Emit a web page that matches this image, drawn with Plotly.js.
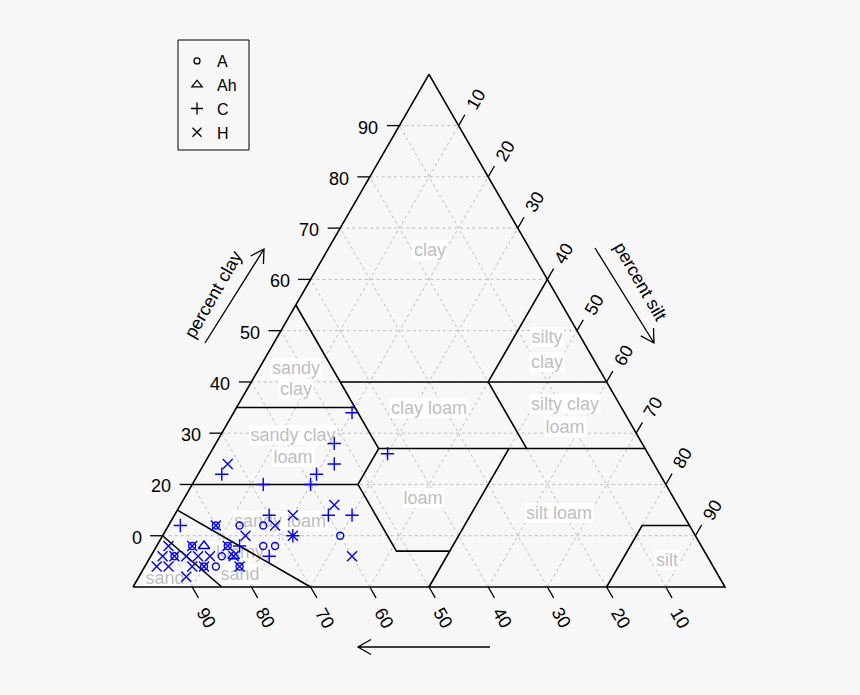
<!DOCTYPE html>
<html><head><meta charset="utf-8">
<script src="https://cdn.plot.ly/plotly-3.0.1.min.js"></script>
<style>html,body{margin:0;padding:0;background:#f7f7f7;}</style>
</head><body><div id="chart" style="width:860px;height:695px;"></div>
<script>
// ---- data: percent sand / silt / clay for each horizon group ----
const A_sand  = [80,76,72,86,80,90,82,86,84,80,74,72,60];
const A_silt  = [ 8,12,16, 6,12, 4,12,10,12,16,18,20,30];
const A_clay  = [12,12,12, 8, 8, 6, 6, 4, 4, 4, 8, 8,10];

const Ah_sand = [84,80];
const Ah_silt = [ 8,14];
const Ah_clay = [ 8, 6];

const C_sand  = [46,52,54,58,60,68,74,44,60,56,70,68,74,78,86];
const C_silt  = [20,20,22,20,20,12, 4,30,26,30,16,22,20,14, 2];
const C_clay  = [34,28,24,22,20,20,22,26,14,14,14,10, 6, 8,12];

const H_sand  = [72,58,66,70,76,68,60,80,90,86,80,92,90,88,86,84,80,94,92,88,86,80,90];
const H_silt  = [ 4,26,20,18,14,22,34, 8, 2, 6,12, 2, 4, 6, 8,10,14, 2, 4, 8,10,16, 8];
const H_clay  = [24,16,14,12,10,10, 6,12, 8, 8, 8, 6, 6, 6, 6, 6, 6, 4, 4, 4, 4, 4, 2];

const groupNames = ['A','Ah','C','H'];

// USDA texture class boundary polylines (sand, silt, clay), null = break
const bndSand = [45,45,null,65,45,null,45,0,null,0,20,null,20,20,null,45,0,null,45,52,null,80,52,null,52,52,43,null,50,23,null,20,8,0,null,85,70,null,90,85];
const bndSilt = [ 0,28,null, 0,20,null,15,60,null,40,40,null,40,53,null,28,73,null,28,28,null, 0,28,null,28,41,50,null,50,50,null,80,80,88,null, 0,30,null, 0,15];
const bndClay = [55,27,null,35,35,null,40,40,null,60,40,null,40,27,null,27,27,null,27,20,null,20,20,null,20, 7, 7,null, 0,27,null, 0,12,12,null,15, 0,null,10, 0];

// tick values and labels
const tickVals   = [10,20,30,40,50,60,70,80,90];
const clayLabels = ['0','20','30','40','50','60','70','80','90'];
const siltLabels = ['10','20','30','40','50','60','70','80','90'];
const sandLabels = ['10','20','30','40','50','60','70','80','90'];

// texture class names (one entry per text line)
const classNames = ['clay','silty','clay','sandy','clay','clay loam','silty clay','loam','sandy clay','loam','loam','silt loam','sandy loam','loamy','sand','sand','silt'];
const classPx = [[430,250],[547,337],[547,362],[296,368],[296,389],[429,408],[565,404],[565,427],[293,435],[293,457],[423,498],[559,513],[280,521],[240,552],[240,574],[165,578],[667,560]];

// ---- projection (ternary -> cartesian) ----
const SQ = Math.sqrt(3)/2;
function tX(sand, silt, clay){ return (silt == null || clay == null) ? null : (silt + clay/2)/100; }
function tY(sand, silt, clay){ return (clay == null) ? null : clay/100*SQ; }
function proj(sa, si, cl){
  return {x: sa.map((v,i)=>tX(v, si[i], cl[i])), y: sa.map((v,i)=>tY(v, si[i], cl[i]))};
}
const U = 592; // px per unit
function pxd(px, py){ return [(px-133)/U, (587-py)/U]; }

const traces = [];
const FONT = 'Liberation Sans, Arial, Helvetica, sans-serif';

// grid
(function(){
  const gx=[], gy=[];
  tickVals.forEach(v=>{
    const segs = [[[100-v,0,v],[0,100-v,v]], [[100-v,v,0],[0,v,100-v]], [[v,100-v,0],[v,0,100-v]]];
    segs.forEach(s=>{ s.forEach(p=>{gx.push(tX(...p)); gy.push(tY(...p));}); gx.push(null); gy.push(null); });
  });
  traces.push({x:gx, y:gy, mode:'lines', line:{color:'#bdbdbd', width:1, dash:'dot'}, hoverinfo:'skip', showlegend:false});
})();

// class name boxes + text (beneath the data points)
(function(){
  const ctx = document.createElement('canvas').getContext('2d');
  ctx.font = '18px "Liberation Sans", Arial, sans-serif';
  const bx=[], by=[], txx=[], tyy=[];
  classNames.forEach((t,i)=>{
    const [cx,cy] = classPx[i];
    const w = ctx.measureText(t).width + 3, h = 20;
    [[cx-w/2,cy-h/2],[cx+w/2,cy-h/2],[cx+w/2,cy+h/2],[cx-w/2,cy+h/2],[cx-w/2,cy-h/2]].forEach(p=>{
      const d = pxd(p[0],p[1]); bx.push(d[0]); by.push(d[1]);
    });
    bx.push(null); by.push(null);
    const d = pxd(cx, cy+1); txx.push(d[0]); tyy.push(d[1]);
  });
  traces.push({x:bx, y:by, mode:'lines', fill:'toself', fillcolor:'#ffffff', line:{width:0, color:'rgba(0,0,0,0)'}, hoverinfo:'skip', showlegend:false});
  traces.push({x:txx, y:tyy, mode:'text', text:classNames, textposition:'middle center', textfont:{size:18, color:'#bebebe', family:FONT}, hoverinfo:'skip', showlegend:false});
})();

// triangle outline
(function(){
  const s=[100,0,0,100], si=[0,100,0,0], c=[0,0,100,0];
  const p = proj(s,si,c);
  traces.push({x:p.x, y:p.y, mode:'lines', line:{color:'#000', width:1.6}, hoverinfo:'skip', showlegend:false});
})();

// boundaries
(function(){
  const p = proj(bndSand, bndSilt, bndClay);
  traces.push({x:p.x, y:p.y, mode:'lines', line:{color:'#000', width:1.6}, hoverinfo:'skip', showlegend:false, connectgaps:false});
})();

// ticks
(function(){
  const L = 12.5/U, gx=[], gy=[];
  tickVals.forEach(v=>{
    let x=tX(100-v,0,v), y=tY(100-v,0,v); gx.push(x, x-L, null); gy.push(y, y, null);
    x=tX(0,v,100-v); y=tY(0,v,100-v); gx.push(x, x+L*0.5, null); gy.push(y, y+L*SQ, null);
    x=tX(v,100-v,0); y=tY(v,100-v,0); gx.push(x, x+L*0.5, null); gy.push(y, y-L*SQ, null);
  });
  traces.push({x:gx, y:gy, mode:'lines', line:{color:'#000', width:1.3}, hoverinfo:'skip', showlegend:false});
})();

// data points
const sym = {A:['circle-open',7], Ah:['triangle-up-open',10], C:['cross-thin-open',9.5], H:['x-thin-open',10]};
const groups = {A:[A_sand,A_silt,A_clay], Ah:[Ah_sand,Ah_silt,Ah_clay], C:[C_sand,C_silt,C_clay], H:[H_sand,H_silt,H_clay]};
groupNames.forEach(g=>{
  const p = proj(...groups[g]);
  traces.push({x:p.x, y:p.y, mode:'markers', name:g, showlegend:false,
    marker:{symbol:sym[g][0], size:sym[g][1], color:'#0000ff', line:{color:'#0000ff', width:1.4}}});
});
// legend entries (black symbols)
groupNames.forEach(g=>{
  traces.push({x:[null], y:[null], mode:'markers', name:g, showlegend:true,
    marker:{symbol:sym[g][0], size:sym[g][1]-1, color:'#000', line:{color:'#000', width:1.3}}});
});

// annotations
const ann = [];
tickVals.forEach((v,i)=>{
  ann.push({x:tX(100-v,0,v), y:tY(100-v,0,v), text:clayLabels[i], showarrow:false, xanchor:'right', yanchor:'middle', xshift:-19, yshift:-2, font:{size:18, color:'#000', family:FONT}});
  ann.push({x:tX(0,v,100-v), y:tY(0,v,100-v), text:siltLabels[i], showarrow:false, textangle:-60, xanchor:'center', yanchor:'middle', xshift:17, yshift:26, font:{size:18, color:'#000', family:FONT}});
  ann.push({x:tX(v,100-v,0), y:tY(v,100-v,0), text:sandLabels[i], showarrow:false, textangle:60, xanchor:'center', yanchor:'middle', xshift:14, yshift:-31, font:{size:18, color:'#000', family:FONT}});
});
(function(){
  let d = pxd(213,295);
  ann.push({x:d[0], y:d[1], text:'percent clay', showarrow:false, textangle:-60, font:{size:18, color:'#000', family:FONT}});
  d = pxd(640,281);
  ann.push({x:d[0], y:d[1], text:'percent silt', showarrow:false, textangle:60, font:{size:18, color:'#000', family:FONT}});
})();

// arrows and legend frame (decoration, pixel positions)
function P(px,py){ return (px/860).toFixed(5)+','+(1-py/695).toFixed(5); }
function arrow(x0,y0,x1,y1){
  const dx=x0-x1, dy=y0-y1, l=Math.hypot(dx,dy), ux=dx/l, uy=dy/l, h=15, a=Math.PI/6;
  const r1=[x1+h*(ux*Math.cos(a)-uy*Math.sin(a)), y1+h*(ux*Math.sin(a)+uy*Math.cos(a))];
  const r2=[x1+h*(ux*Math.cos(-a)-uy*Math.sin(-a)), y1+h*(ux*Math.sin(-a)+uy*Math.cos(-a))];
  return {type:'path', xref:'paper', yref:'paper', line:{color:'#000', width:1.3},
    path:'M'+P(x0,y0)+' L'+P(x1,y1)+' M'+P(r1[0],r1[1])+' L'+P(x1,y1)+' L'+P(r2[0],r2[1])};
}
const shapes = [arrow(205,343,264,249), arrow(595,248,654,343), arrow(490,647,358,647),
  {type:'rect', xref:'paper', yref:'paper', x0:178/860, x1:249/860, y0:1-150/695, y1:1-40/695, line:{color:'#000', width:1}, fillcolor:'rgba(0,0,0,0)'}];

const layout = {
  width:860, height:695, margin:{l:0,r:0,t:0,b:0},
  paper_bgcolor:'#f7f7f7', plot_bgcolor:'#f7f7f7',
  xaxis:{range:[-133/U, (860-133)/U], visible:false, fixedrange:true},
  yaxis:{range:[(587-695)/U, 587/U], visible:false, fixedrange:true},
  showlegend:true,
  legend:{x:177/860, y:1-44/695, xanchor:'left', yanchor:'top', bgcolor:'rgba(0,0,0,0)', borderwidth:0, font:{size:16, color:'#000', family:FONT}, tracegroupgap:0},
  annotations:ann, shapes:shapes, hovermode:false
};
Plotly.newPlot('chart', traces, layout, {displayModeBar:false, staticPlot:true});
</script></body></html>
